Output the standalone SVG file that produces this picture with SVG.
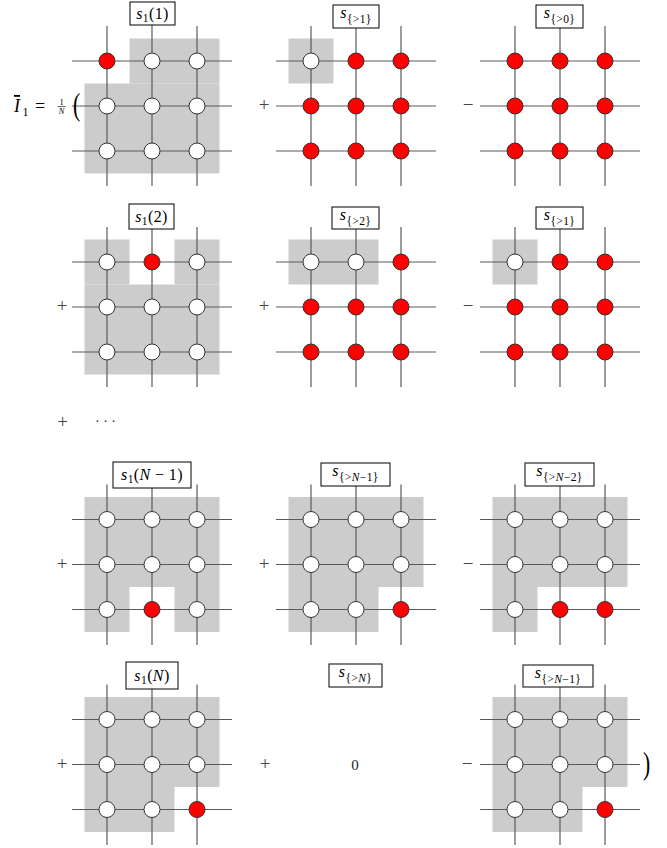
<svg xmlns="http://www.w3.org/2000/svg" width="667" height="848" viewBox="0 0 667 848">
<style>
.g{fill:#cccccc;stroke:none}
.ln{stroke:#5a5a5a;stroke-width:1.2;fill:none}
.w{fill:#ffffff;stroke:#333333;stroke-width:1}
.r{fill:#ff0000;stroke:#333333;stroke-width:1}
.box{fill:#ffffff;stroke:#000000;stroke-width:1}
.t{font-family:"Liberation Serif","DejaVu Serif",serif;font-size:16px;fill:#000}
.i{font-style:italic}
.sub{font-size:11.5px}
.sg{font-family:"Liberation Serif","DejaVu Serif",serif;font-size:19px;fill:#444;text-anchor:middle}
.lb{text-anchor:middle;letter-spacing:0.4px}
</style>
<rect width="667" height="848" fill="#ffffff"/>

<!-- shading -->
<g id="shading">
  <rect class="g" x="129.5" y="38.5" width="90" height="45"/>
  <rect class="g" x="84.5" y="83.5" width="135" height="90"/>
  <rect class="g" x="288.5" y="38.5" width="45" height="45"/>

  <rect class="g" x="84.5" y="239.5" width="45" height="45"/>
  <rect class="g" x="174.5" y="239.5" width="45" height="45"/>
  <rect class="g" x="84.5" y="284.5" width="135" height="90"/>
  <rect class="g" x="288.5" y="239.5" width="90" height="45"/>
  <rect class="g" x="492.5" y="239.5" width="45" height="45"/>

  <rect class="g" x="84.5" y="497" width="135" height="90"/>
  <rect class="g" x="84.5" y="587" width="45" height="45"/>
  <rect class="g" x="174.5" y="587" width="45" height="45"/>
  <rect class="g" x="288.5" y="497" width="135" height="90"/>
  <rect class="g" x="288.5" y="587" width="90" height="45"/>
  <rect class="g" x="492.5" y="497" width="135" height="90"/>
  <rect class="g" x="492.5" y="587" width="45" height="45"/>

  <rect class="g" x="84.5" y="697" width="135" height="90"/>
  <rect class="g" x="84.5" y="787" width="90" height="45"/>
  <rect class="g" x="492.5" y="697" width="135" height="90"/>
  <rect class="g" x="492.5" y="787" width="90" height="45"/>
</g>

<!-- connectors (lattice bonds) -->
<g id="connectors" class="ln">
  <!-- row 1 -->
  <path d="M72 61H232M72 106H232M72 151H232M107 26V186M152 14V186M197 26V186"/>
  <path d="M276 61H436M276 106H436M276 151H436M311 26V186M356 16V186M401 26V186"/>
  <path d="M480 61H640M480 106H640M480 151H640M515 26V186M560 16V186M605 26V186"/>
  <!-- row 2 -->
  <path d="M72 262H232M72 307H232M72 352H232M107 227V387M152 216V387M197 227V387"/>
  <path d="M276 262H436M276 307H436M276 352H436M311 227V387M356 218V387M401 227V387"/>
  <path d="M480 262H640M480 307H640M480 352H640M515 227V387M560 218V387M605 227V387"/>
  <!-- row 3 -->
  <path d="M72 519.5H232M72 564.5H232M72 609.5H232M107 484.5V645M152 475V645M197 484.5V645"/>
  <path d="M276 519.5H436M276 564.5H436M276 609.5H436M311 484.5V645M356 475V645M401 484.5V645"/>
  <path d="M480 519.5H640M480 564.5H640M480 609.5H640M515 484.5V645M560 475V645M605 484.5V645"/>
  <!-- row 4 -->
  <path d="M72 719.5H232M72 764.5H232M72 809.5H232M107 684.5V845M152 675V845M197 684.5V845"/>
  <path d="M480 719.5H640M480 764.5H640M480 809.5H640M515 684.5V845M560 676V845M605 684.5V845"/>
</g>

<!-- formula prefix -->
<g id="prefix" class="t">
  <text x="14" y="112" class="i" font-size="18" text-decoration="overline">I</text>
  <text x="22.5" y="116" font-size="12">1</text>
  <text x="35" y="111.5" font-size="18">=</text>
  <text x="61.5" y="104.5" font-size="8.5" text-anchor="middle">1</text>
  <line x1="57.5" y1="106.5" x2="65.5" y2="106.5" stroke="#000" stroke-width="0.6"/>
  <text x="61.5" y="114" font-size="8.5" text-anchor="middle" class="i">N</text>
  <text transform="translate(73,115) scale(0.7,1)" font-size="31">(</text>
  <text transform="translate(643,774) scale(0.7,1)" font-size="31">)</text>
</g>

<!-- signs -->
<g id="signs" class="sg">
  <text x="264" y="111">+</text>
  <text x="468" y="111">−</text>
  <text x="62" y="312">+</text>
  <text x="264" y="312">+</text>
  <text x="468" y="312">−</text>
  <text x="62.5" y="427.5">+</text>
  <text x="105.5" y="426" font-size="14" fill="#333">· · ·</text>
  <text x="62" y="569.5">+</text>
  <text x="264" y="569.5">+</text>
  <text x="468" y="569.5">−</text>
  <text x="62" y="769.5">+</text>
  <text x="265" y="769.5">+</text>
  <text x="467" y="769.5">−</text>
  <text x="355" y="770" font-size="15" fill="#222">0</text>
</g>

<!-- row 1 -->
<g id="p11">
  <circle class="r" cx="107" cy="61" r="8"/><circle class="w" cx="152" cy="61" r="8"/><circle class="w" cx="197" cy="61" r="8"/>
  <circle class="w" cx="107" cy="106" r="8"/><circle class="w" cx="152" cy="106" r="8"/><circle class="w" cx="197" cy="106" r="8"/>
  <circle class="w" cx="107" cy="151" r="8"/><circle class="w" cx="152" cy="151" r="8"/><circle class="w" cx="197" cy="151" r="8"/>
  <rect class="box" x="130" y="2" width="45" height="23"/>
  <text class="t lb" x="152.5" y="19"><tspan class="i">s</tspan><tspan class="sub" dy="3">1</tspan><tspan dy="-3">(1)</tspan></text>
</g>
<g id="p12">
  <circle class="w" cx="311" cy="61" r="8"/><circle class="r" cx="356" cy="61" r="8"/><circle class="r" cx="401" cy="61" r="8"/>
  <circle class="r" cx="311" cy="106" r="8"/><circle class="r" cx="356" cy="106" r="8"/><circle class="r" cx="401" cy="106" r="8"/>
  <circle class="r" cx="311" cy="151" r="8"/><circle class="r" cx="356" cy="151" r="8"/><circle class="r" cx="401" cy="151" r="8"/>
  <rect class="box" x="333" y="5" width="46" height="23"/>
  <text class="t lb" x="356" y="18"><tspan class="i">s</tspan><tspan class="sub" dy="5">{&gt;1}</tspan></text>
</g>
<g id="p13">
  <circle class="r" cx="515" cy="61" r="8"/><circle class="r" cx="560" cy="61" r="8"/><circle class="r" cx="605" cy="61" r="8"/>
  <circle class="r" cx="515" cy="106" r="8"/><circle class="r" cx="560" cy="106" r="8"/><circle class="r" cx="605" cy="106" r="8"/>
  <circle class="r" cx="515" cy="151" r="8"/><circle class="r" cx="560" cy="151" r="8"/><circle class="r" cx="605" cy="151" r="8"/>
  <rect class="box" x="536" y="5" width="47" height="23"/>
  <text class="t lb" x="559.5" y="18"><tspan class="i">s</tspan><tspan class="sub" dy="5">{&gt;0}</tspan></text>
</g>

<!-- row 2 -->
<g id="p21">
  <circle class="w" cx="107" cy="262" r="8"/><circle class="r" cx="152" cy="262" r="8"/><circle class="w" cx="197" cy="262" r="8"/>
  <circle class="w" cx="107" cy="307" r="8"/><circle class="w" cx="152" cy="307" r="8"/><circle class="w" cx="197" cy="307" r="8"/>
  <circle class="w" cx="107" cy="352" r="8"/><circle class="w" cx="152" cy="352" r="8"/><circle class="w" cx="197" cy="352" r="8"/>
  <rect class="box" x="129" y="204" width="45" height="25"/>
  <text class="t lb" x="151.5" y="221.5"><tspan class="i">s</tspan><tspan class="sub" dy="3">1</tspan><tspan dy="-3">(2)</tspan></text>
</g>
<g id="p22">
  <circle class="w" cx="311" cy="262" r="8"/><circle class="w" cx="356" cy="262" r="8"/><circle class="r" cx="401" cy="262" r="8"/>
  <circle class="r" cx="311" cy="307" r="8"/><circle class="r" cx="356" cy="307" r="8"/><circle class="r" cx="401" cy="307" r="8"/>
  <circle class="r" cx="311" cy="352" r="8"/><circle class="r" cx="356" cy="352" r="8"/><circle class="r" cx="401" cy="352" r="8"/>
  <rect class="box" x="332" y="207" width="47" height="22"/>
  <text class="t lb" x="355.5" y="219.5"><tspan class="i">s</tspan><tspan class="sub" dy="5">{&gt;2}</tspan></text>
</g>
<g id="p23">
  <circle class="w" cx="515" cy="262" r="8"/><circle class="r" cx="560" cy="262" r="8"/><circle class="r" cx="605" cy="262" r="8"/>
  <circle class="r" cx="515" cy="307" r="8"/><circle class="r" cx="560" cy="307" r="8"/><circle class="r" cx="605" cy="307" r="8"/>
  <circle class="r" cx="515" cy="352" r="8"/><circle class="r" cx="560" cy="352" r="8"/><circle class="r" cx="605" cy="352" r="8"/>
  <rect class="box" x="536" y="207" width="47" height="22"/>
  <text class="t lb" x="559.5" y="219.5"><tspan class="i">s</tspan><tspan class="sub" dy="5">{&gt;1}</tspan></text>
</g>

<!-- row 3 -->
<g id="p31">
  <circle class="w" cx="107" cy="519.5" r="8"/><circle class="w" cx="152" cy="519.5" r="8"/><circle class="w" cx="197" cy="519.5" r="8"/>
  <circle class="w" cx="107" cy="564.5" r="8"/><circle class="w" cx="152" cy="564.5" r="8"/><circle class="w" cx="197" cy="564.5" r="8"/>
  <circle class="w" cx="107" cy="609.5" r="8"/><circle class="r" cx="152" cy="609.5" r="8"/><circle class="w" cx="197" cy="609.5" r="8"/>
  <rect class="box" x="113" y="462" width="78" height="26"/>
  <text class="t lb" x="152" y="480"><tspan class="i">s</tspan><tspan class="sub" dy="3">1</tspan><tspan dy="-3">(</tspan><tspan class="i">N</tspan><tspan> − 1)</tspan></text>
</g>
<g id="p32">
  <circle class="w" cx="311" cy="519.5" r="8"/><circle class="w" cx="356" cy="519.5" r="8"/><circle class="w" cx="401" cy="519.5" r="8"/>
  <circle class="w" cx="311" cy="564.5" r="8"/><circle class="w" cx="356" cy="564.5" r="8"/><circle class="w" cx="401" cy="564.5" r="8"/>
  <circle class="w" cx="311" cy="609.5" r="8"/><circle class="w" cx="356" cy="609.5" r="8"/><circle class="r" cx="401" cy="609.5" r="8"/>
  <rect class="box" x="321" y="463" width="69" height="23"/>
  <text class="t lb" x="355.5" y="476"><tspan class="i">s</tspan><tspan class="sub" dy="5">{&gt;</tspan><tspan class="sub i">N</tspan><tspan class="sub">−1}</tspan></text>
</g>
<g id="p33">
  <circle class="w" cx="515" cy="519.5" r="8"/><circle class="w" cx="560" cy="519.5" r="8"/><circle class="w" cx="605" cy="519.5" r="8"/>
  <circle class="w" cx="515" cy="564.5" r="8"/><circle class="w" cx="560" cy="564.5" r="8"/><circle class="w" cx="605" cy="564.5" r="8"/>
  <circle class="w" cx="515" cy="609.5" r="8"/><circle class="r" cx="560" cy="609.5" r="8"/><circle class="r" cx="605" cy="609.5" r="8"/>
  <rect class="box" x="525" y="463" width="69" height="23"/>
  <text class="t lb" x="559.5" y="476"><tspan class="i">s</tspan><tspan class="sub" dy="5">{&gt;</tspan><tspan class="sub i">N</tspan><tspan class="sub">−2}</tspan></text>
</g>

<!-- row 4 -->
<g id="p41">
  <circle class="w" cx="107" cy="719.5" r="8"/><circle class="w" cx="152" cy="719.5" r="8"/><circle class="w" cx="197" cy="719.5" r="8"/>
  <circle class="w" cx="107" cy="764.5" r="8"/><circle class="w" cx="152" cy="764.5" r="8"/><circle class="w" cx="197" cy="764.5" r="8"/>
  <circle class="w" cx="107" cy="809.5" r="8"/><circle class="w" cx="152" cy="809.5" r="8"/><circle class="r" cx="197" cy="809.5" r="8"/>
  <rect class="box" x="126" y="662" width="52" height="27"/>
  <text class="t lb" x="152" y="681"><tspan class="i">s</tspan><tspan class="sub" dy="3">1</tspan><tspan dy="-3">(</tspan><tspan class="i">N</tspan><tspan>)</tspan></text>
</g>
<g id="p42">
  <rect class="box" x="329" y="664" width="53" height="23"/>
  <text class="t lb" x="355.5" y="677"><tspan class="i">s</tspan><tspan class="sub" dy="5">{&gt;</tspan><tspan class="sub i">N</tspan><tspan class="sub">}</tspan></text>
</g>
<g id="p43">
  <circle class="w" cx="515" cy="719.5" r="8"/><circle class="w" cx="560" cy="719.5" r="8"/><circle class="w" cx="605" cy="719.5" r="8"/>
  <circle class="w" cx="515" cy="764.5" r="8"/><circle class="w" cx="560" cy="764.5" r="8"/><circle class="w" cx="605" cy="764.5" r="8"/>
  <circle class="w" cx="515" cy="809.5" r="8"/><circle class="w" cx="560" cy="809.5" r="8"/><circle class="r" cx="605" cy="809.5" r="8"/>
  <rect class="box" x="523" y="665" width="70" height="22"/>
  <text class="t lb" x="558" y="677.5"><tspan class="i">s</tspan><tspan class="sub" dy="5">{&gt;</tspan><tspan class="sub i">N</tspan><tspan class="sub">−1}</tspan></text>
</g>
</svg>
